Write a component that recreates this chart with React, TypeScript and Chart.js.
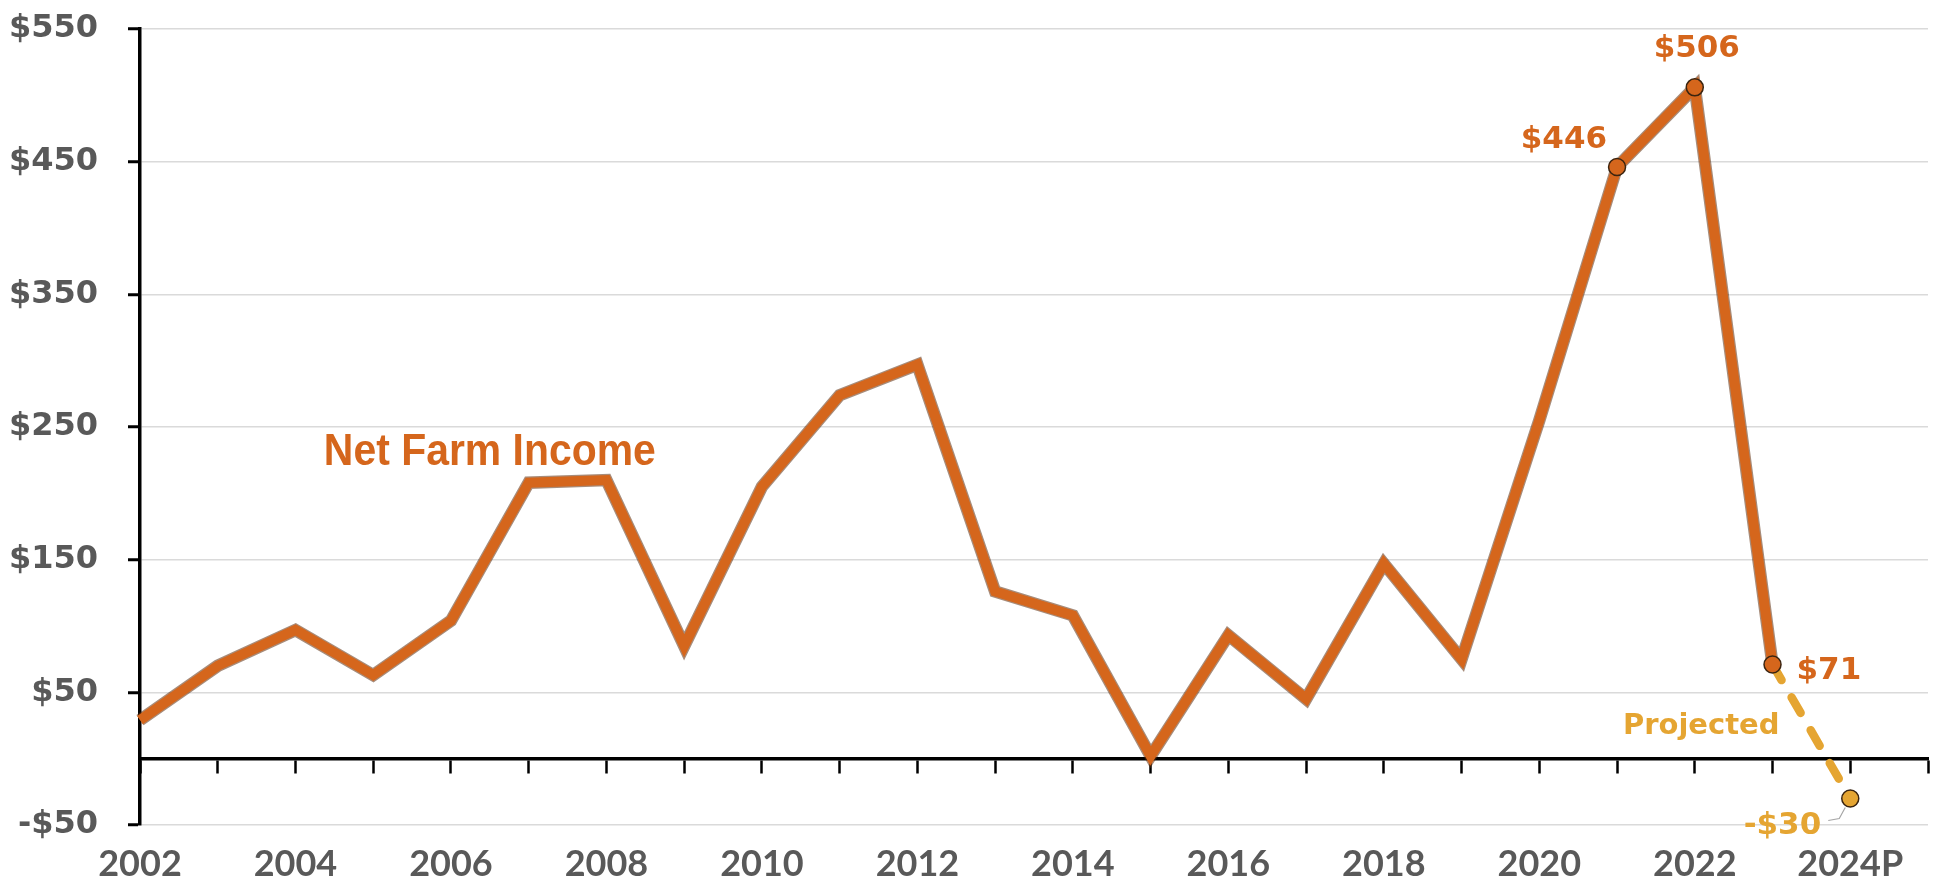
import React, { useEffect, useRef } from 'react';
import { Chart, registerables } from 'chart.js';

Chart.register(...registerables);

// ---------- data ----------
const categories: string[] = [
  '2002', '2003', '2004', '2005', '2006', '2007', '2008', '2009', '2010', '2011',
  '2012', '2013', '2014', '2015', '2016', '2017', '2018', '2019', '2020', '2021',
  '2022', '2023', '2024P', '',
];

const netFarmIncome: (number | null)[] = [
  29, 70, 97, 63, 104, 208, 210, 85, 205, 274,
  297, 126, 108, 2, 93, 45, 147, 75, 255, 446,
  506, 71, null, null,
];

const projectedIncome: (number | null)[] = [
  null, null, null, null, null, null, null, null, null, null,
  null, null, null, null, null, null, null, null, null, null,
  null, 71, -30, null,
];

const yMin = -50;
const yMax = 550;
const yStep = 100;

const markedIncomeIndices: number[] = [19, 20, 21];
const markedProjectedIndices: number[] = [22];

const seriesLabel = 'Net Farm Income';
const projectedLabel = 'Projected';

// ---------- styles ----------
const ORANGE = '#D5661C';
const ORANGE_EDGE = 'rgba(95,45,12,0.55)';
const GOLD = '#E5A532';
const MARKER_EDGE = '#3a2410';
const AXIS_TEXT = '#595959';
const WIDE_FONT = '"DejaVu Sans", sans-serif';
const LABEL_FONT = 'Lato, "Open Sans", sans-serif';

const fmtMoney = (v: number) => (v < 0 ? '-$' : '$') + Math.abs(v);

const zeroPadding = (s: any) => {
  s.paddingTop = 0;
  s.paddingBottom = 0;
  s.paddingLeft = 0;
  s.paddingRight = 0;
};

const annotationPlugin = {
  id: 'annotations',
  afterDatasetsDraw(chart: any) {
    const { ctx, scales } = chart;
    const xs = scales.x;
    const ys = scales.y;
    const px = (i: number) => xs.getPixelForValue(i);
    const py = (v: number) => ys.getPixelForValue(v);
    ctx.save();
    ctx.textBaseline = 'alphabetic';

    const draw = (
      text: string, x: number, y: number, align: CanvasTextAlign,
      color: string, font: string, sx = 1,
    ) => {
      ctx.save();
      ctx.font = font;
      ctx.fillStyle = color;
      ctx.textAlign = align;
      ctx.translate(x, y);
      ctx.scale(sx, 1);
      ctx.fillText(text, 0, 0);
      ctx.restore();
    };
    const bold31 = `bold 31px ${WIDE_FONT}`;

    const i446 = markedIncomeIndices[0];
    const i506 = markedIncomeIndices[1];
    const i71 = markedIncomeIndices[2];
    const iProj = markedProjectedIndices[0];

    const v446 = netFarmIncome[i446] as number;
    const v506 = netFarmIncome[i506] as number;
    const v71 = netFarmIncome[i71] as number;
    const vProj = projectedIncome[iProj] as number;

    draw(fmtMoney(v446), px(i446) - 10, py(v446) - 19, 'right', ORANGE, bold31);
    draw(fmtMoney(v506), px(i506) + 2, py(v506) - 30, 'center', ORANGE, bold31);
    draw(fmtMoney(v71), px(i71) + 24, py(v71) + 15, 'left', ORANGE, bold31);
    draw(fmtMoney(vProj), px(iProj) - 29, py(vProj) + 36, 'right', GOLD, bold31);

    // leader line for projected value
    const lx = px(iProj);
    const ly = py(vProj);
    ctx.strokeStyle = '#a6a6a6';
    ctx.lineWidth = 1.2;
    ctx.beginPath();
    ctx.moveTo(lx - 22, ly + 22);
    ctx.lineTo(lx - 11, ly + 20);
    ctx.lineTo(lx - 5, ly + 9);
    ctx.stroke();

    // "Projected" label
    draw(projectedLabel, px(i71) + 7, py(0) - 25, 'right', GOLD, `bold 29px ${WIDE_FONT}`);

    // series label
    draw(
      seriesLabel,
      (px(4) + px(5)) / 2,
      py(220) - 2,
      'center',
      ORANGE,
      'bold 44px "Liberation Sans", Arial, sans-serif',
      0.93,
    );

    ctx.restore();
  },
};

export default function App() {
  const canvasRef = useRef<HTMLCanvasElement | null>(null);

  useEffect(() => {
    if (!canvasRef.current) return;
    const pointRadiusFor = (idx: number[]) => (c: any) => (idx.includes(c.dataIndex) ? 8.5 : 0);

    const chart = new Chart(canvasRef.current, {
      type: 'line',
      data: {
        labels: categories,
        datasets: [
          {
            label: seriesLabel,
            data: netFarmIncome,
            borderColor: ORANGE,
            borderWidth: 10,
            borderJoinStyle: 'miter',
            borderCapStyle: 'butt',
            pointRadius: pointRadiusFor(markedIncomeIndices),
            pointBackgroundColor: ORANGE,
            pointBorderColor: MARKER_EDGE,
            pointBorderWidth: 1.5,
            tension: 0,
            order: 1,
            spanGaps: false,
          },
          {
            label: projectedLabel,
            data: projectedIncome,
            borderColor: GOLD,
            borderWidth: 8.5,
            borderDash: [18, 20],
            borderCapStyle: 'round',
            pointRadius: pointRadiusFor(markedProjectedIndices),
            pointBackgroundColor: GOLD,
            pointBorderColor: MARKER_EDGE,
            pointBorderWidth: 1.5,
            tension: 0,
            order: 2,
          },
          {
            label: 'edge',
            data: netFarmIncome,
            borderColor: ORANGE_EDGE,
            borderWidth: 12.5,
            borderJoinStyle: 'miter',
            pointRadius: 0,
            tension: 0,
            order: 3,
          },
        ],
      },
      options: {
        responsive: false,
        maintainAspectRatio: false,
        devicePixelRatio: 1,
        animation: false,
        events: [],
        layout: { padding: { top: 29, right: 14, left: 0, bottom: 0 } },
        plugins: {
          legend: { display: false },
          tooltip: { enabled: false },
        },
        scales: {
          x: {
            type: 'category',
            position: { y: 0 } as any,
            offset: false,
            border: { display: true, color: '#000', width: 3.5 },
            grid: {
              drawOnChartArea: false,
              drawTicks: true,
              tickLength: 13,
              tickColor: '#000',
              tickWidth: 2.5,
              offset: false,
            },
            ticks: { display: false, autoSkip: false },
            afterFit: zeroPadding,
          } as any,
          xLabels: {
            type: 'category',
            axis: 'x',
            position: 'bottom',
            offset: false,
            border: { display: false },
            grid: { display: false, drawTicks: false, offset: false },
            ticks: {
              autoSkip: false,
              maxRotation: 0,
              minRotation: 0,
              padding: 18,
              color: AXIS_TEXT,
              font: { family: LABEL_FONT, size: 36, weight: 'bold' },
              callback: (_v: any, i: number) => (i % 2 === 0 ? categories[i] : ''),
            },
            afterFit: (s: any) => {
              s.height = 60;
              zeroPadding(s);
            },
          } as any,
          y: {
            type: 'linear',
            position: 'left',
            min: yMin,
            max: yMax,
            border: { display: true, color: '#000', width: 3.5 },
            grid: {
              color: '#dadada',
              lineWidth: 1.5,
              drawTicks: true,
              tickLength: 12,
              tickColor: '#000',
              tickWidth: 3,
            },
            ticks: {
              stepSize: yStep,
              padding: 30,
              color: AXIS_TEXT,
              font: { family: WIDE_FONT, size: 32, weight: 'bold' },
              callback: (v: any) => fmtMoney(Number(v)),
            },
            afterFit: (s: any) => {
              s.width = 140;
              zeroPadding(s);
            },
          } as any,
        },
      },
      plugins: [annotationPlugin],
    } as any);

    return () => chart.destroy();
  }, []);

  return (
    <div style={{ position: 'absolute', left: 0, top: 0, width: 1942, height: 885, background: '#fff' }}>
      <canvas ref={canvasRef} width={1942} height={885} style={{ display: 'block', width: 1942, height: 885 }} />
    </div>
  );
}
